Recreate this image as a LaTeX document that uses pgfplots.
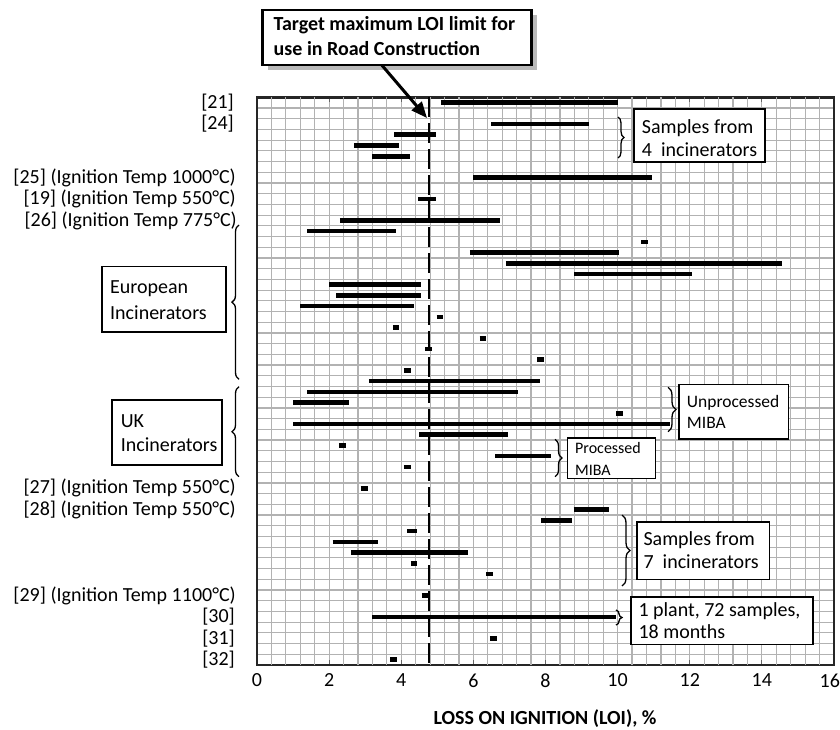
\documentclass[border=0pt]{standalone}
\usepackage{fontspec}
\setmainfont{Carlito}
\usepackage{pgfplots}
\pgfplotsset{compat=1.18}
\usetikzlibrary{arrows.meta,decorations.pathreplacing}
\definecolor{gridgray}{RGB}{178,178,178}
\newcommand\lbl{\fontsize{20}{24}\selectfont}
\begin{document}
\begin{tikzpicture}[x=1pt,y=1pt]
\begin{axis}[at={(0pt,0pt)}, anchor=south west, scale only axis,
  width=577pt, height=567.7pt,
  xmin=0, xmax=16, ymin=0, ymax=53,
  xtick={0,2,...,16},
  xticklabels={0,2,4,6,8,10,12,14,\makebox[12pt][r]{16}},
  extra x ticks={0.4,0.8,1.2,1.6,2.4,2.8,3.2,3.6,4.4,4.8,5.2,5.6,6.4,6.8,7.2,7.6,8.4,8.8,9.2,9.6,10.4,10.8,11.2,11.6,12.4,12.8,13.2,13.6,14.4,14.8,15.2,15.6},
  extra x tick labels={},
  extra x tick style={grid=major, major tick length=0pt},
  ytick={0,1,...,53}, yticklabels={},
  xmajorgrids, ymajorgrids,
  grid style={gridgray, line width=1.2pt},
  tick align=inside, major tick length=5pt,
  xtick style={black!60, line width=1pt}, ytick style={draw=none},
  axis line style={black!85, line width=2.5pt},
  ticklabel style={font=\lbl},
  /pgf/number format/assume math mode=true,
  xticklabel style={yshift=-5pt},
]
\addplot[black, line width=4.6pt, line cap=butt, unbounded coords=jump, no markers]
 table[row sep=\\] {
 x y \\
 5.1 52.5 \\ 10.0 52.5 \\ nan nan \\
 6.5 50.5 \\ 9.2 50.5 \\ nan nan \\
 3.8 49.5 \\ 4.95 49.5 \\ nan nan \\
 2.7 48.5 \\ 3.95 48.5 \\ nan nan \\
 3.2 47.5 \\ 4.25 47.5 \\ nan nan \\
 6.0 45.5 \\ 10.95 45.5 \\ nan nan \\
 4.47 43.5 \\ 4.97 43.5 \\ nan nan \\
 2.3 41.5 \\ 6.75 41.5 \\ nan nan \\
 1.4 40.5 \\ 3.85 40.5 \\ nan nan \\
 10.66 39.5 \\ 10.84 39.5 \\ nan nan \\
 5.9 38.5 \\ 10.05 38.5 \\ nan nan \\
 6.9 37.5 \\ 14.55 37.5 \\ nan nan \\
 8.8 36.5 \\ 12.05 36.5 \\ nan nan \\
 2.0 35.5 \\ 4.56 35.5 \\ nan nan \\
 2.2 34.5 \\ 4.56 34.5 \\ nan nan \\
 1.2 33.5 \\ 4.36 33.5 \\ nan nan \\
 4.98 32.5 \\ 5.16 32.5 \\ nan nan \\
 3.77 31.5 \\ 3.95 31.5 \\ nan nan \\
 6.17 30.5 \\ 6.36 30.5 \\ nan nan \\
 4.67 29.5 \\ 4.86 29.5 \\ nan nan \\
 7.77 28.5 \\ 7.95 28.5 \\ nan nan \\
 4.07 27.5 \\ 4.26 27.5 \\ nan nan \\
 3.1 26.5 \\ 7.85 26.5 \\ nan nan \\
 1.4 25.5 \\ 7.25 25.5 \\ nan nan \\
 1.0 24.5 \\ 2.56 24.5 \\ nan nan \\
 9.96 23.5 \\ 10.15 23.5 \\ nan nan \\
 1.0 22.5 \\ 11.45 22.5 \\ nan nan \\
 4.5 21.5 \\ 6.95 21.5 \\ nan nan \\
 2.27 20.5 \\ 2.46 20.5 \\ nan nan \\
 6.6 19.5 \\ 8.15 19.5 \\ nan nan \\
 4.07 18.5 \\ 4.26 18.5 \\ nan nan \\
 2.87 16.5 \\ 3.07 16.5 \\ nan nan \\
 8.78 14.5 \\ 9.76 14.5 \\ nan nan \\
 7.88 13.5 \\ 8.74 13.5 \\ nan nan \\
 4.17 12.5 \\ 4.45 12.5 \\ nan nan \\
 2.1 11.5 \\ 3.35 11.5 \\ nan nan \\
 2.6 10.5 \\ 5.85 10.5 \\ nan nan \\
 4.27 9.5 \\ 4.45 9.5 \\ nan nan \\
 6.36 8.5 \\ 6.55 8.5 \\ nan nan \\
 4.57 6.5 \\ 4.75 6.5 \\ nan nan \\
 3.2 4.5 \\ 9.95 4.5 \\ nan nan \\
 6.46 2.5 \\ 6.65 2.5 \\ nan nan \\
 3.69 0.5 \\ 3.89 0.5 \\
 };
\addplot[black, line width=2pt, dash pattern=on 20pt off 6pt, no markers]
 coordinates {(4.77,53) (4.77,0)};
\end{axis}
% y labels
\begin{scope}[every node/.style={font=\lbl, inner sep=0pt, anchor=east}]
\node at (-23,562.3) {[21]};
\node at (-23,540.9) {[24]};
\node at (-21,487.4) {[25] (Ignition Temp 1000°C)};
\node at (-21,466.0) {[19] (Ignition Temp 550°C)};
\node at (-20,444.5) {[26] (Ignition Temp 775°C)};
\node at (-21,176.7) {[27] (Ignition Temp 550°C)};
\node at (-21,155.3) {[28] (Ignition Temp 550°C)};
\node at (-21,69.6) {[29] (Ignition Temp 1100°C)};
\node at (-22,48.2) {[30]};
\node at (-22,26.8) {[31]};
\node at (-22,5.4) {[32]};
\end{scope}
% braces
\draw[line width=1.3pt, decorate, decoration={brace, amplitude=7pt}] (-18,285.7) -- (-18,440);
\draw[line width=1.3pt, decorate, decoration={brace, amplitude=7pt}] (-18,188.3) -- (-18,278.3);
\draw[line width=1.3pt, decorate, decoration={brace, amplitude=6pt}] (361,548) -- (361,507);
\draw[line width=1.3pt, decorate, decoration={brace, amplitude=8pt}] (411,277.7) -- (411,233.3);
\draw[line width=1.3pt, decorate, decoration={brace, amplitude=7pt}] (298,225.7) -- (298,188.3);
\draw[line width=1.3pt, decorate, decoration={brace, amplitude=8pt}] (365,150) -- (365,79);
\draw[line width=1.3pt, decorate, decoration={brace, amplitude=6pt}] (359,55) -- (359,40);
% boxes
\begin{scope}[line width=1.6pt]
\draw[fill=white] (-155,333.3) rectangle (-31,398.3);
\draw[fill=white] (-145,200) rectangle (-35,265);
\draw[fill=white] (377,503) rectangle (508,556);
\draw[fill=white] (422,226.3) rectangle (531.3,280.7);
\draw[fill=white] (310.3,186.7) rectangle (398.3,227.3);
\draw[fill=white] (379.7,85.7) rectangle (512.3,143.3);
\draw[fill=white] (373.7,20.7) rectangle (555.7,68.3);
\end{scope}
\begin{scope}[every node/.style={font=\lbl, inner sep=0pt, anchor=base west}]
\node at (-147,371) {European};
\node at (-147,346) {Incinerators};
\node at (-136.3,237.7) {UK};
\node at (-136.3,213.3) {Incinerators};
\node at (384.7,531.7) {Samples from};
\node at (384.7,508.3) {4\ \ incinerators};
\node at (386.3,119.3) {Samples from};
\node at (386.3,96.7) {7\ \ incinerators};
\node at (381.3,48.3) {1 plant, 72 samples,};
\node at (381.3,26.7) {18 months};
\node[font=\fontsize{17.5}{20}\selectfont] at (429.7,257.7) {Unprocessed};
\node[font=\fontsize{17.5}{20}\selectfont] at (429.7,236.7) {MIBA};
\node[font=\fontsize{16}{19}\selectfont] at (318,211.7) {Processed};
\node[font=\fontsize{16}{19}\selectfont] at (318,190) {MIBA};
\end{scope}
% title box
\fill[gray!55] (10.7,595) rectangle (279.7,650);
\draw[line width=2.5pt, fill=white] (5.7,600) rectangle (274.7,655);
\node[font=\lbl\bfseries, inner sep=0pt, anchor=base west] at (16.5,634.3) {Target maximum LOI limit for};
\node[font=\lbl\bfseries, inner sep=0pt, anchor=base west] at (16.5,609) {use in Road Construction};
\draw[line width=3pt, -{Triangle[length=16pt,width=13pt]}] (124.7,600) -- (170,547);
% x label
\node[font=\lbl\bfseries, inner sep=0pt, anchor=base] at (288,-59) {LOSS ON IGNITION (LOI), \%};
\pgfresetboundingbox
\path[use as bounding box] (-257,-64) rectangle (583,665);
\end{tikzpicture}
\end{document}
